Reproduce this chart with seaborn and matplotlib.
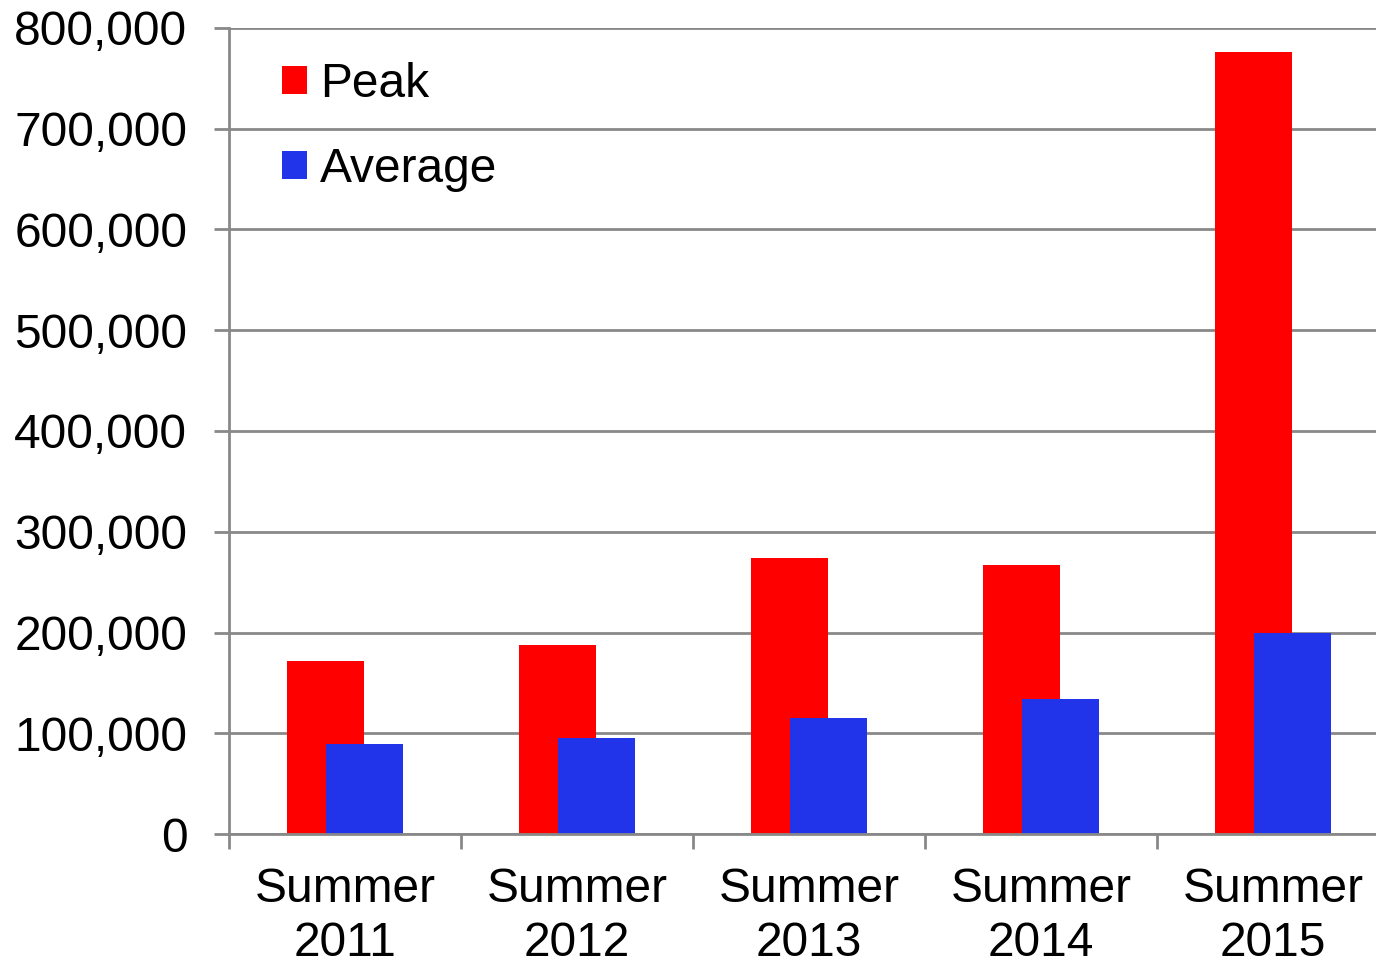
import numpy as np
import pandas as pd
import matplotlib
matplotlib.use("Agg")
import matplotlib.pyplot as plt
from matplotlib.ticker import FixedLocator, StrMethodFormatter
import seaborn as sns

# Seasonal figures
seasons = ["Summer\n2011", "Summer\n2012", "Summer\n2013", "Summer\n2014", "Summer\n2015"]
peak = [172000, 188000, 274000, 267000, 776000]
average = [89000, 95000, 115500, 134000, 199500]

sns.set_theme(style="white")
plt.rcParams["font.family"] = ["Liberation Sans", "DejaVu Sans"]
plt.rcParams["text.color"] = "black"

FS = 34.5
GRID = "#898989"
bar_w = 0.332
shift = 0.084

fig = plt.figure(figsize=(13.76, 9.67), dpi=100)
ax = fig.add_axes([229 / 1376, 133 / 967, 1160 / 1376, 806 / 967])

pos = np.arange(len(seasons))
peak_df = pd.DataFrame({"x": pos - shift, "value": peak})
avg_df = pd.DataFrame({"x": pos + shift, "value": average})

sns.barplot(data=peak_df, x="x", y="value", native_scale=True, width=bar_w,
            color="#FF0000", saturation=1, linewidth=0, label="Peak", ax=ax)
sns.barplot(data=avg_df, x="x", y="value", native_scale=True, width=bar_w,
            color="#2234EA", saturation=1, linewidth=0, label="Average", ax=ax)

ax.set_xlim(-0.5, len(seasons) - 0.5)
ax.set_ylim(0, 800000)
ax.set_xlabel("")
ax.set_ylabel("")

# y axis: ticks every 100k with gridlines
ax.yaxis.set_major_locator(FixedLocator(np.arange(0, 800001, 100000)))
ax.yaxis.set_major_formatter(StrMethodFormatter("{x:,.0f}"))
ax.yaxis.grid(True, color=GRID, linewidth=2)
ax.set_axisbelow(True)
ax.tick_params(axis="y", which="major", length=11, width=2, color=GRID,
               labelsize=FS, labelcolor="black", pad=19, left=True)

# x axis: labels at category centres, tick marks between categories
ax.set_xticks(pos)
ax.set_xticklabels(seasons)
ax.xaxis.set_minor_locator(FixedLocator(np.arange(-0.5, len(seasons), 1.0)))
ax.tick_params(axis="x", which="major", length=0, labelsize=FS,
               labelcolor="black", pad=24)
ax.tick_params(axis="x", which="minor", length=11, width=2, color=GRID, bottom=True)
for lab in ax.get_xticklabels():
    lab.set_linespacing(1.25)

for side in ["top", "right"]:
    ax.spines[side].set_visible(False)
for side in ["left", "bottom"]:
    ax.spines[side].set_color(GRID)
    ax.spines[side].set_linewidth(2)

leg = ax.legend(loc="upper left", bbox_to_anchor=(0.029, 0.982), frameon=False,
                fontsize=FS, handlelength=0.53, handleheight=0.53,
                handletextpad=0.27, labelspacing=0.84, borderaxespad=0)
for t in leg.get_texts():
    t.set_color("black")

fig.savefig("out.png", dpi=100, facecolor="white")
